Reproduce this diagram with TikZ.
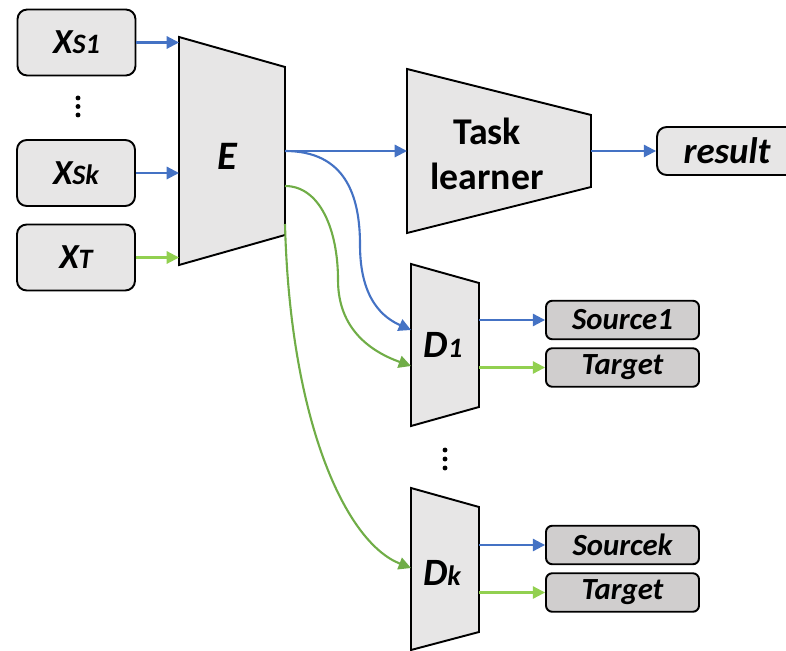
\documentclass[tikz,border=0pt]{standalone}
\usepackage{fontspec}
\setmainfont{Carlito}
\usetikzlibrary{arrows.meta}
\definecolor{net-blue}{HTML}{4472C4}
\definecolor{net-green}{HTML}{70AD47}
\definecolor{net-lime}{HTML}{92D050}
\definecolor{net-fill}{HTML}{E7E6E6}
\definecolor{net-tag}{HTML}{D0CECE}
\newcommand{\bigsz}{\fontsize{20}{24}\selectfont}
\newcommand{\subsz}{\fontsize{16}{19}\selectfont}

\begin{document}
\begin{tikzpicture}[x=0.02cm, y=-0.02cm,
    box/.style={draw, rounded corners=5.5pt, fill=net-fill, line width=1.1pt,
                inner sep=0pt, minimum width=2.36cm, minimum height=1.32cm,
                font=\bfseries\itshape},
    tag/.style={box, fill=net-tag, rounded corners=3.5pt, minimum width=3.06cm,
                minimum height=0.77cm, font=\fontsize{17.5}{20}\selectfont\bfseries\itshape},
    trap/.style={draw, fill=net-fill, line width=1.1pt, line join=miter},
    lbl/.style={inner sep=0pt, font=\bfseries\itshape},
    arr/.style={-{Triangle[length=7pt, width=7pt]}, line width=1.2pt},
]
    \useasboundingbox (0,0) rectangle (786,651);

    % Inputs
    \node[box] (xs1) at (76.5,42.5) {\bigsz X\subsz S1};
    \node[box] (xsk) at (76,173) {\bigsz X\subsz Sk};
    \node[box] (xt) at (76,257.5) {\bigsz X\subsz T};
    \foreach \y in {98,106.5,115} \fill (78,\y) circle (1.4pt);

    % Encoder
    \filldraw[trap] (179,37) coordinate (enc-nw) -- (285,67) coordinate (enc-ne)
        -- (285,235) coordinate (enc-se) -- (179,265) coordinate (enc-sw) -- cycle;
    \node[lbl] (enc) at (227,156) {\fontsize{23}{24}\selectfont E};
    \coordinate (enc-o1) at (285,151);
    \coordinate (enc-o2) at (285,186);
    \coordinate (enc-o3) at (285,224);

    % Task learner
    \filldraw[trap] (407,69) coordinate (task-nw) -- (591,115) coordinate (task-ne)
        -- (591,187) coordinate (task-se) -- (407,233) coordinate (task-sw) -- cycle;
    \node[lbl, align=center, font=\fontsize{21.5}{25.5}\selectfont\bfseries] (task) at (487,154)
        {Task\\learner};
    \node[box, minimum width=2.8cm, minimum height=0.96cm] (res) at (727,151)
        {\fontsize{21}{24}\selectfont result};

    % Decoders
    \filldraw[trap] (411,264) coordinate (dec1-nw) -- (479,283) coordinate (dec1-ne)
        -- (479,407) coordinate (dec1-se) -- (411,426) coordinate (dec1-sw) -- cycle;
    \node[lbl] (dec1) at (443,345) {\fontsize{22}{22}\selectfont D\subsz 1};
    \coordinate (dec1-i1) at (411,330);
    \coordinate (dec1-i2) at (411,366);

    \foreach \y in {450,459,468} \fill (445,\y) circle (1.4pt);

    \filldraw[trap] (411,488) coordinate (deck-nw) -- (479,507) coordinate (deck-ne)
        -- (479,632) coordinate (deck-se) -- (411,650) coordinate (deck-sw) -- cycle;
    \node[lbl] (deck) at (442,573) {\fontsize{22}{22}\selectfont D\subsz k};
    \coordinate (deck-i) at (411,568);

    % Reconstructions
    \node[tag] (src1) at (622.5,320) {Source1};
    \node[tag] (tgt1) at (622.5,367.5) {Target};
    \node[tag] (srck) at (622.5,545) {Sourcek};
    \node[tag] (tgtk) at (622.5,592.5) {Target};

    % Arrows
    \draw[arr, net-blue] (xs1.east) -- (xs1.east -| enc-nw);
    \draw[arr, net-blue] (xsk.east) -- (xsk.east -| enc-nw);
    \draw[arr, net-lime] (xt.east) -- (xt.east -| enc-nw);
    \draw[arr, net-blue] (enc-o1) -- (enc-o1 -| task-nw);
    \draw[arr, net-blue] (res.west -| task-ne) -- (res.west);
    \draw[arr, net-blue] (enc-o1) .. controls (345,151) and (360,195) .. (360,245)
        .. controls (360,300) and (384,318) .. (dec1-i1);
    \draw[arr, net-green] (enc-o2) .. controls (320,186) and (338,230) .. (338,280)
        .. controls (338,330) and (372,352) .. (dec1-i2);
    \draw[arr, net-green] (enc-o3) .. controls (290,420) and (345,542) .. (deck-i);
    \draw[arr, net-blue] (src1.west -| dec1-ne) -- (src1.west);
    \draw[arr, net-lime] (tgt1.west -| dec1-ne) -- (tgt1.west);
    \draw[arr, net-blue] (srck.west -| deck-ne) -- (srck.west);
    \draw[arr, net-lime] (tgtk.west -| deck-ne) -- (tgtk.west);
\end{tikzpicture}
\end{document}
